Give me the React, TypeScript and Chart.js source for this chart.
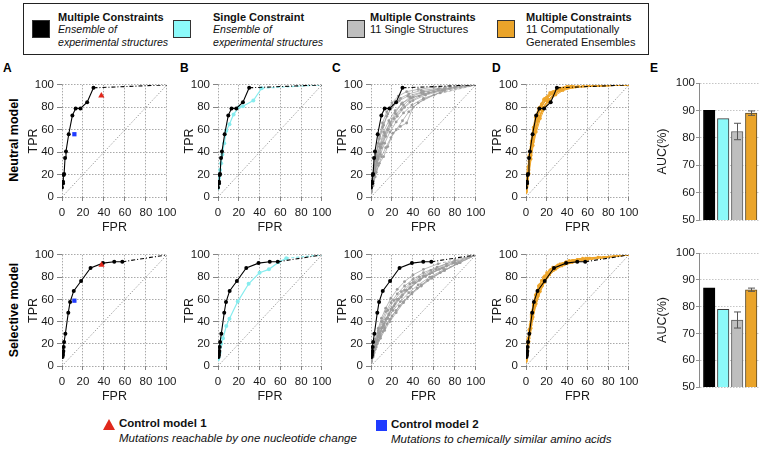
import React, { useEffect, useRef } from 'react';
import { Chart, registerables } from 'chart.js';
Chart.register(...registerables);

const FONT = "'Liberation Sans', Arial, Helvetica, sans-serif";
type P = [number, number];

// ---------------- DATA ----------------
const rocTicks = [0, 20, 40, 60, 80, 100];
const aucTicks = [50, 60, 70, 80, 90, 100];

// Neutral model
const neutralMultipleEnsemble: P[] = [[0, 8.5], [1, 12], [1, 13.5], [1.6, 19.6], [2, 20.5], [2.9, 34.8], [3.8, 40.6], [6.4, 56], [9.9, 72.8], [13, 79], [17.6, 79], [24, 84.5], [30, 97.4], [100, 100]];
const neutralSingleEnsemble: P[] = [[0, 8], [0.5, 12], [1, 17], [1.5, 20], [2, 24], [3, 30], [4.2, 38], [6, 48], [8, 59], [11, 65], [15, 73.7], [20, 80], [24, 81], [34, 86], [42, 97], [100, 100]];
const neutralControl1: P[] = [[37.5, 90.4]];
const neutralControl2: P[] = [[11.8, 56]];
const neutralSingleStructures: P[][] = [
  [[0, 6], [1, 12], [2, 20], [4, 33], [7, 48], [11, 62], [15, 72], [20, 80], [27, 86], [35, 90], [50, 94], [70, 97], [100, 100]],
  [[0, 5], [1, 10], [3, 22], [5, 32], [8, 45], [12, 58], [17, 68], [23, 77], [30, 84], [40, 89], [55, 93], [75, 97], [100, 100]],
  [[0, 4], [2, 12], [4, 22], [7, 34], [10, 44], [14, 54], [19, 64], [25, 72], [32, 80], [40, 86], [52, 91], [68, 95], [100, 100]],
  [[0, 7], [1, 14], [3, 26], [5, 38], [8, 52], [12, 64], [16, 74], [21, 82], [28, 88], [36, 92], [48, 95], [65, 97], [100, 100]],
  [[0, 5], [2, 14], [4, 24], [7, 36], [11, 48], [16, 60], [22, 70], [29, 78], [37, 85], [46, 90], [60, 94], [80, 98], [100, 100]],
  [[0, 6], [1, 11], [3, 20], [6, 30], [9, 38], [13, 48], [18, 58], [24, 67], [31, 75], [39, 82], [50, 88], [66, 93], [100, 100]],
  [[0, 4], [2, 10], [4, 18], [7, 28], [10, 36], [14, 44], [19, 53], [24, 60], [30, 68], [36, 76], [45, 84], [60, 91], [100, 100]],
  [[0, 8], [1, 16], [3, 28], [5, 40], [8, 54], [11, 66], [15, 76], [20, 84], [26, 90], [34, 94], [45, 96], [60, 98], [100, 100]],
  [[0, 5], [2, 12], [5, 22], [8, 30], [12, 36], [16, 45], [21, 57], [28, 63], [34, 66], [40, 80], [50, 87], [70, 95], [100, 100]],
  [[0, 6], [1, 13], [3, 24], [6, 36], [9, 47], [13, 57], [18, 66], [24, 74], [31, 82], [38, 88], [50, 92], [70, 96], [100, 100]],
  [[0, 5], [2, 14], [4, 25], [6, 34], [9, 44], [13, 55], [18, 66], [23, 75], [29, 83], [37, 89], [48, 93], [64, 96], [100, 100]],
];
const neutralGeneratedEnsembles: P[][] = [
  [[0, 5], [1, 12], [2, 22], [3, 32], [5, 45], [7, 57], [10, 68], [14, 78], [19, 86], [25, 92], [32, 96], [42, 98], [60, 99], [100, 100]],
  [[0, 6], [1, 14], [2, 25], [4, 38], [6, 50], [8, 61], [11, 72], [15, 81], [20, 88], [26, 93], [33, 97], [45, 98], [100, 100]],
  [[0, 4], [1, 10], [2, 19], [4, 33], [6, 45], [9, 58], [12, 68], [16, 77], [21, 85], [27, 91], [34, 95], [44, 98], [100, 100]],
  [[0, 7], [1, 15], [2, 26], [3, 36], [5, 48], [7, 60], [10, 71], [13, 80], [18, 88], [24, 93], [31, 97], [40, 99], [100, 100]],
  [[0, 5], [1, 11], [3, 24], [5, 37], [7, 49], [10, 61], [13, 71], [17, 80], [22, 87], [28, 92], [35, 96], [46, 98], [100, 100]],
  [[0, 6], [1, 13], [2, 23], [4, 36], [6, 49], [8, 59], [11, 70], [14, 79], [19, 87], [25, 92], [32, 96], [41, 98], [100, 100]],
  [[0, 4], [1, 9], [3, 21], [5, 34], [7, 46], [10, 58], [14, 70], [18, 79], [23, 86], [29, 91], [36, 95], [48, 98], [100, 100]],
  [[0, 6], [1, 14], [2, 24], [4, 39], [6, 52], [8, 63], [11, 74], [15, 83], [20, 89], [26, 94], [33, 97], [44, 99], [100, 100]],
  [[0, 5], [1, 12], [2, 21], [4, 35], [6, 47], [9, 60], [12, 70], [16, 79], [21, 86], [27, 92], [34, 96], [43, 98], [100, 100]],
  [[0, 7], [1, 16], [2, 27], [3, 37], [5, 50], [7, 62], [9, 71], [12, 79], [17, 87], [23, 93], [30, 96], [39, 98], [100, 100]],
  [[0, 5], [1, 11], [2, 20], [4, 34], [6, 46], [9, 59], [13, 71], [17, 80], [22, 87], [28, 93], [35, 96], [45, 98], [100, 100]],
];

// Selective model
const selectiveMultipleEnsemble: P[] = [[0.5, 8], [1, 10], [1, 12], [1.3, 13.5], [1.6, 17], [2, 21.5], [3.2, 29], [6, 48], [7.7, 57.6], [11.2, 67.6], [18.2, 76.5], [27.2, 88.2], [39, 92.6], [49.8, 93.8], [57.5, 93.8], [100, 100]];
const selectiveSingleEnsemble: P[] = [[0, 6], [0.6, 8], [1.5, 12], [2, 17], [3, 20], [4.8, 25], [8, 36], [11, 42.6], [19, 58], [29.5, 74], [40, 84], [49, 87], [58.6, 93.5], [65.7, 97], [100, 100]];
const selectiveControl1: P[] = [[37.7, 91]];
const selectiveControl2: P[] = [[11.8, 58.8]];
const selectiveSingleStructures: P[][] = [
  [[0, 4], [2, 10], [4, 18], [7, 27], [10, 34], [14, 42], [19, 51], [25, 60], [32, 68], [40, 75], [50, 81], [62, 87], [78, 93], [100, 100]],
  [[0, 5], [2, 12], [5, 22], [8, 30], [12, 38], [17, 47], [23, 56], [30, 64], [38, 71], [47, 78], [58, 84], [72, 90], [100, 100]],
  [[0, 3], [2, 8], [4, 15], [7, 23], [11, 31], [15, 38], [20, 45], [27, 54], [35, 62], [44, 70], [54, 77], [66, 84], [82, 92], [100, 100]],
  [[0, 6], [1, 12], [4, 22], [7, 32], [10, 40], [14, 49], [19, 57], [25, 65], [32, 72], [40, 78], [50, 84], [63, 89], [80, 95], [100, 100]],
  [[0, 4], [2, 11], [5, 20], [8, 28], [12, 36], [16, 43], [21, 50], [28, 58], [36, 66], [45, 73], [56, 80], [70, 87], [100, 100]],
  [[0, 5], [2, 13], [4, 21], [7, 30], [11, 40], [16, 50], [22, 59], [29, 67], [37, 74], [46, 80], [57, 86], [72, 92], [100, 100]],
  [[0, 3], [2, 9], [5, 17], [9, 25], [13, 32], [18, 40], [24, 48], [31, 57], [39, 65], [48, 72], [58, 79], [70, 86], [85, 93], [100, 100]],
  [[0, 6], [2, 15], [4, 24], [7, 34], [10, 43], [14, 52], [19, 61], [25, 69], [32, 76], [40, 82], [50, 87], [64, 92], [100, 100]],
  [[0, 4], [3, 12], [6, 20], [9, 27], [13, 34], [18, 42], [24, 50], [31, 58], [39, 66], [48, 73], [58, 80], [70, 86], [84, 93], [100, 100]],
  [[0, 5], [2, 12], [5, 21], [8, 29], [12, 37], [17, 46], [22, 54], [29, 62], [37, 70], [46, 77], [56, 83], [68, 88], [100, 100]],
  [[0, 4], [2, 10], [4, 17], [7, 26], [11, 35], [15, 43], [20, 52], [26, 60], [34, 68], [42, 75], [52, 81], [65, 87], [80, 93], [100, 100]],
];
const selectiveGeneratedEnsembles: P[][] = [
  [[0, 5], [1, 12], [2, 20], [3, 28], [5, 40], [7, 51], [10, 62], [14, 71], [19, 79], [25, 86], [32, 90], [40, 93], [52, 96], [70, 98], [100, 100]],
  [[0, 6], [1, 13], [2, 22], [4, 35], [6, 46], [8, 55], [11, 65], [15, 74], [20, 81], [26, 87], [33, 91], [42, 94], [55, 96], [100, 100]],
  [[0, 4], [1, 9], [2, 17], [4, 30], [6, 42], [9, 54], [12, 63], [16, 72], [21, 80], [27, 86], [35, 90], [45, 93], [60, 96], [100, 100]],
  [[0, 7], [1, 15], [2, 24], [3, 32], [5, 44], [7, 54], [10, 65], [13, 73], [18, 81], [24, 87], [31, 91], [39, 94], [50, 96], [100, 100]],
  [[0, 5], [1, 11], [3, 25], [5, 37], [7, 48], [10, 59], [13, 68], [17, 76], [22, 83], [28, 88], [36, 92], [46, 95], [62, 97], [100, 100]],
  [[0, 6], [1, 12], [2, 21], [4, 34], [6, 45], [8, 54], [11, 64], [15, 73], [20, 81], [26, 87], [33, 91], [43, 94], [58, 97], [100, 100]],
  [[0, 4], [1, 10], [3, 22], [5, 34], [7, 44], [10, 56], [14, 67], [18, 75], [23, 82], [29, 87], [37, 91], [48, 94], [100, 100]],
  [[0, 6], [1, 14], [2, 23], [4, 37], [6, 49], [8, 58], [11, 68], [15, 77], [20, 84], [26, 89], [33, 92], [42, 95], [55, 97], [100, 100]],
  [[0, 5], [1, 11], [2, 19], [4, 32], [6, 43], [9, 56], [12, 65], [16, 74], [21, 81], [27, 87], [34, 91], [44, 94], [100, 100]],
  [[0, 7], [1, 16], [2, 25], [3, 33], [5, 46], [7, 56], [9, 64], [12, 72], [17, 80], [23, 86], [30, 90], [38, 93], [50, 96], [100, 100]],
  [[0, 5], [1, 11], [2, 20], [4, 33], [6, 44], [9, 57], [13, 68], [17, 77], [22, 83], [28, 88], [35, 92], [45, 95], [60, 97], [100, 100]],
];

const diagonal: P[] = [[0, 0], [100, 100]];

// AUC bars (panel E)
const aucCategories = ['Multiple (ensemble)', 'Single (ensemble)', 'Multiple (11 structures)', 'Multiple (11 generated)'];
const aucNeutral = [90, 87, 82.3, 89];
const aucNeutralErr = [0, 0, 3, 0.8];
const aucSelective = [87, 79, 75, 86.3];
const aucSelectiveErr = [0, 0, 3, 0.6];

// ---------------- STYLE ----------------
const BLACK = '#000000';
const CYAN = '#86ECEE';
const GRAY = '#9C9C9C';
const ORANGE = '#EEA52A';
const RED = '#E0281C';
const BLUE = '#1F3BFF';

function curve(points: P[], color: string, radius: number, width: number, dash: number[]) {
  const n = points.length;
  return {
    data: points.map(([x, y]) => ({ x, y })),
    showLine: true,
    borderColor: color,
    backgroundColor: color,
    borderWidth: width,
    pointRadius: points.map(([x, y], i) => (i === n - 1 && x === 100 && y === 100 ? 0 : radius)),
    pointBorderWidth: 0,
    pointHoverRadius: 0,
    segment: { borderDash: (ctx: any) => (ctx.p1DataIndex === n - 1 ? dash : undefined) },
  };
}
function marker(points: P[], color: string, style: string, radius: number) {
  return {
    data: points.map(([x, y]) => ({ x, y })),
    showLine: false,
    pointStyle: style,
    pointRadius: radius,
    borderColor: color,
    backgroundColor: color,
    pointBorderWidth: 0,
  };
}
function diag() {
  return {
    data: diagonal.map(([x, y]) => ({ x, y })),
    showLine: true,
    borderColor: 'rgba(90,90,90,0.85)',
    borderWidth: 0.8,
    borderDash: [1.2, 1.8],
    pointRadius: 0,
  };
}
const blackC = (p: P[]) => curve(p, BLACK, 2, 1.1, [4, 2, 1, 2]);
const cyanC = (p: P[]) => curve(p, CYAN, 2, 1.2, [3, 2]);
const grayC = (p: P[]) => curve(p, GRAY, 1.4, 0.7, [3, 2]);
const orangeC = (p: P[]) => curve(p, ORANGE, 1.4, 1, [3, 2]);

const tickFont = { family: FONT, size: 11.5 };
const titleFont = { family: FONT, size: 12.5 };

function rocOptions(): any {
  const grid = { color: 'rgba(110,110,110,0.75)', lineWidth: 0.8, tickLength: 4, tickColor: '#666', tickWidth: 0.8 };
  return {
    responsive: false,
    animation: false,
    events: [],
    layout: { padding: { left: 0, top: 8, right: 14, bottom: 0 } },
    plugins: { legend: { display: false }, tooltip: { enabled: false } },
    scales: {
      x: {
        type: 'linear', min: 0, max: 100,
        afterBuildTicks: (s: any) => { s.ticks = rocTicks.map((v) => ({ value: v })); },
        afterFit: (s: any) => { s.height = 38; },
        ticks: { padding: 4.5, color: '#1a1a1a', font: tickFont, maxRotation: 0, autoSkip: false },
        grid: { ...grid },
        border: { display: false, dash: [1.5, 1.5] },
        title: { display: true, text: 'FPR', color: '#1a1a1a', font: titleFont, padding: 0 },
      },
      y: {
        type: 'linear', min: 0, max: 100,
        afterBuildTicks: (s: any) => { s.ticks = rocTicks.map((v) => ({ value: v })); },
        afterFit: (s: any) => { s.width = 36; },
        ticks: { padding: 3, color: '#1a1a1a', font: tickFont, autoSkip: false },
        grid: { ...grid, tickLength: 5 },
        border: { display: false, dash: [1.5, 1.5] },
        title: { display: true, text: 'TPR', color: '#1a1a1a', font: titleFont, padding: 0 },
      },
    },
  };
}

function errorBarPlugin(values: number[], errs: number[]) {
  return {
    id: 'errbars',
    afterDatasetsDraw(chart: any) {
      const meta = chart.getDatasetMeta(0);
      const ys = chart.scales.y;
      const ctx = chart.ctx;
      ctx.save();
      ctx.strokeStyle = '#555';
      ctx.lineWidth = 1;
      meta.data.forEach((bar: any, i: number) => {
        const e = errs[i];
        if (!e) return;
        const x = Math.round(bar.x) + 0.5;
        const y1 = ys.getPixelForValue(values[i] - e);
        const y2 = ys.getPixelForValue(values[i] + e);
        ctx.beginPath();
        ctx.moveTo(x, y1); ctx.lineTo(x, y2);
        ctx.moveTo(x - 3.5, y1); ctx.lineTo(x + 3.5, y1);
        ctx.moveTo(x - 3.5, y2); ctx.lineTo(x + 3.5, y2);
        ctx.stroke();
      });
      ctx.restore();
    },
  };
}

function aucConfig(values: number[], errs: number[]): any {
  return {
    type: 'bar',
    data: {
      labels: aucCategories,
      datasets: [{
        data: values.map((v, i) => ({ x: i, y: v })),
        backgroundColor: [BLACK, '#8CFAFA', '#BEBEBE', '#EAA42A'],
        borderColor: ['#000', '#3a3a3a', '#5a5a5a', '#5a4a2a'],
        borderWidth: 1,
        barThickness: 11.5,
      }],
    },
    options: {
      responsive: false,
      animation: false,
      events: [],
      layout: { padding: { left: 0, top: 8, right: 2, bottom: 8 } },
      plugins: { legend: { display: false }, tooltip: { enabled: false } },
      scales: {
        x: { type: 'linear', min: -0.729, max: 3.629, offset: false, grid: { offset: false }, display: false },
        y: {
          min: 50, max: 100,
          afterBuildTicks: (s: any) => { s.ticks = aucTicks.map((v) => ({ value: v })); },
          afterFit: (s: any) => { s.width = 44; },
          ticks: { padding: 1, color: '#1a1a1a', font: tickFont, autoSkip: false },
          grid: { color: 'rgba(150,150,150,0.7)', lineWidth: 0.8, tickLength: 3, tickColor: '#777', tickWidth: 0.8 },
          border: { display: true, color: '#8a8a8a', width: 1, dash: [1.5, 1.5] },
          title: { display: true, text: 'AUC(%)', color: '#1a1a1a', font: titleFont, padding: 0 },
        },
      },
    },
    plugins: [errorBarPlugin(values, errs)],
  };
}

type Panel = { key: string; left: number; top: number; width: number; height: number; config: any };

const ROWS = [{ ct: 83, cb: 197 }, { ct: 253, cb: 366 }];
const COLS = [{ cl: 62, cr: 167 }, { cl: 218, cr: 322 }, { cl: 371, cr: 476 }, { cl: 526, cr: 629 }];
const E_ROWS = [{ ct: 83, cb: 220 }, { ct: 253, cb: 387 }];

function rocPanel(key: string, col: number, row: number, datasets: any[]): Panel {
  const { cl, cr } = COLS[col];
  const { ct, cb } = ROWS[row];
  return {
    key,
    left: cl - 36,
    top: ct - 8,
    width: cr - cl + 50,
    height: cb - ct + 46,
    config: { type: 'scatter', data: { datasets }, options: rocOptions() },
  };
}
function aucPanel(key: string, row: number, values: number[], errs: number[]): Panel {
  const { ct, cb } = E_ROWS[row];
  return { key, left: 655, top: ct - 8, width: 107, height: cb - ct + 16, config: aucConfig(values, errs) };
}

function buildPanels(): Panel[] {
  return [
    rocPanel('A1', 0, 0, [marker(neutralControl1, RED, 'triangle', 3.6), marker(neutralControl2, BLUE, 'rect', 3), blackC(neutralMultipleEnsemble), diag()]),
    rocPanel('B1', 1, 0, [blackC(neutralMultipleEnsemble), cyanC(neutralSingleEnsemble), diag()]),
    rocPanel('C1', 2, 0, [blackC(neutralMultipleEnsemble), ...neutralSingleStructures.map(grayC), diag()]),
    rocPanel('D1', 3, 0, [blackC(neutralMultipleEnsemble), ...neutralGeneratedEnsembles.map(orangeC), diag()]),
    rocPanel('A2', 0, 1, [marker(selectiveControl1, RED, 'triangle', 3.6), marker(selectiveControl2, BLUE, 'rect', 3), blackC(selectiveMultipleEnsemble), diag()]),
    rocPanel('B2', 1, 1, [blackC(selectiveMultipleEnsemble), cyanC(selectiveSingleEnsemble), diag()]),
    rocPanel('C2', 2, 1, [blackC(selectiveMultipleEnsemble), ...selectiveSingleStructures.map(grayC), diag()]),
    rocPanel('D2', 3, 1, [blackC(selectiveMultipleEnsemble), ...selectiveGeneratedEnsembles.map(orangeC), diag()]),
    aucPanel('E1', 0, aucNeutral, aucNeutralErr),
    aucPanel('E2', 1, aucSelective, aucSelectiveErr),
  ];
}

const panels = buildPanels();

function abs(left: number, top: number, extra: React.CSSProperties = {}): React.CSSProperties {
  return { position: 'absolute', left, top, whiteSpace: 'nowrap', ...extra };
}

const LegendSquare = ({ left, top, color }: { left: number; top: number; color: string }) => (
  <div style={abs(left, top, { width: 16, height: 16, background: color, border: '1px solid #333' })} />
);

export default function App() {
  const refs = useRef<(HTMLCanvasElement | null)[]>([]);
  useEffect(() => {
    const charts = panels.map((p, i) => new Chart(refs.current[i] as HTMLCanvasElement, p.config));
    return () => charts.forEach((c) => c.destroy());
  }, []);

  const legendText: React.CSSProperties = { fontSize: 11, lineHeight: '12.5px', color: '#111' };
  const bold: React.CSSProperties = { fontWeight: 'bold' };
  const ital: React.CSSProperties = { fontStyle: 'italic', fontSize: 10.6 };
  const letter: React.CSSProperties = { fontWeight: 'bold', fontSize: 12, lineHeight: '14px', color: '#000' };

  return (
    <div style={{ position: 'absolute', left: 0, top: 0, width: 762, height: 449, background: '#fff', fontFamily: FONT, overflow: 'hidden' }}>
      {panels.map((p, i) => (
        <canvas
          key={p.key}
          ref={(el) => { refs.current[i] = el; }}
          width={p.width}
          height={p.height}
          style={{ position: 'absolute', left: p.left, top: p.top, width: p.width, height: p.height }}
        />
      ))}

      {/* top legend */}
      <div style={abs(23, 3, { width: 624, height: 50, border: '1px solid #222' })} />
      <LegendSquare left={32} top={20} color="#000" />
      <div style={abs(58, 10.5, legendText)}>
        <div style={bold}>Multiple Constraints</div>
        <div style={ital}>Ensemble of</div>
        <div style={ital}>experimental structures</div>
      </div>
      <LegendSquare left={173} top={20} color="#8CFAFA" />
      <div style={abs(213, 10.5, legendText)}>
        <div style={bold}>Single Constraint</div>
        <div style={ital}>Ensemble of</div>
        <div style={ital}>experimental structures</div>
      </div>
      <LegendSquare left={347} top={20} color="#BEBEBE" />
      <div style={abs(370, 10.5, legendText)}>
        <div style={bold}>Multiple Constraints</div>
        <div>11 Single Structures</div>
      </div>
      <LegendSquare left={497} top={20} color="#EAA42A" />
      <div style={abs(526, 10.5, legendText)}>
        <div style={bold}>Multiple Constraints</div>
        <div>11 Computationally</div>
        <div>Generated Ensembles</div>
      </div>

      {/* panel letters */}
      <div style={abs(3, 61, letter)}>A</div>
      <div style={abs(180, 61, letter)}>B</div>
      <div style={abs(332, 61, letter)}>C</div>
      <div style={abs(492, 61, letter)}>D</div>
      <div style={abs(650, 61, letter)}>E</div>

      {/* row labels */}
      <div style={abs(14, 140, { fontWeight: 'bold', fontSize: 12.5, transform: 'translate(-50%, -50%) rotate(-90deg)', color: '#000' })}>Neutral model</div>
      <div style={abs(14, 310, { fontWeight: 'bold', fontSize: 12.5, transform: 'translate(-50%, -50%) rotate(-90deg)', color: '#000' })}>Selective model</div>

      {/* bottom legend */}
      <div style={abs(103, 419, { width: 12, height: 11, background: RED, clipPath: 'polygon(50% 0, 100% 100%, 0 100%)' })} />
      <div style={abs(119, 416, { fontSize: 11.5, lineHeight: '15px', color: '#111' })}>
        <div style={bold}>Control model 1</div>
        <div style={{ fontStyle: 'italic' }}>Mutations reachable by one nucleotide change</div>
      </div>
      <div style={abs(376, 420, { width: 11, height: 11, background: BLUE })} />
      <div style={abs(391, 417, { fontSize: 11.5, lineHeight: '15px', color: '#111' })}>
        <div style={bold}>Control model 2</div>
        <div style={{ fontStyle: 'italic' }}>Mutations to chemically similar amino acids</div>
      </div>
    </div>
  );
}
